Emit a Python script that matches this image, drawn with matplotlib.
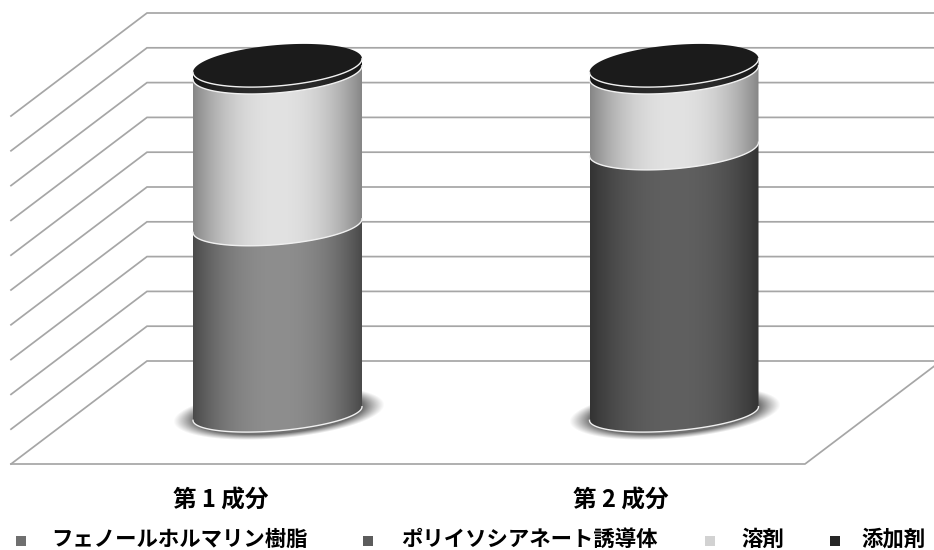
import numpy as np
import matplotlib
matplotlib.use("Agg")
import matplotlib.pyplot as plt
from matplotlib.patches import Polygon

plt.rcParams['font.family'] = ['Noto Sans CJK JP', 'DejaVu Sans']

categories = ['第 1 成分', '第 2 成分']
series_names = ['フェノールホルマリン樹脂', 'ポリイソシアネート誘導体', '溶剤', '添加剤']
phenol = [54.0, 0.0]
polyiso = [0.0, 76.0]
solvent = [44.0, 22.0]
additive = [2.0, 2.0]
grid_values = [0, 10, 20, 30, 40, 50, 60, 70, 80, 90, 100]

W, H = 934, 550
fig = plt.figure(figsize=(W / 100, H / 100), dpi=100)
ax = fig.add_axes([0, 0, 1, 1])

# scales
def wall_y(v):
    return 361 - v * 3.48

def base_y(v):
    return 413.5 - v * 3.48

def cat_x(i):
    return 277.5 + i * 396.5

GRID = '#a6a6a6'
DX, DY = 136, 103
for v in grid_values:
    y = wall_y(v)
    ax.plot([11, 147, W], [y + DY, y, y], color=GRID, lw=1.25, zorder=1, solid_joinstyle='miter')
y0 = wall_y(0)
ax.plot([11, 805, W], [y0 + DY, y0 + DY, y0 + DY - (W - 805) * DY / DX], color=GRID, lw=1.25, zorder=1)

A, S = 84.5, 6.8

def minor(v):
    return 17.3 + 3.2 * v / 100

def arc(cx, v, t0, t1, a=A, n=120):
    t = np.linspace(t0, t1, n)
    b = minor(v)
    return cx + a * np.cos(t), base_y(v) + b * np.sin(t) - S * np.cos(t)

def gradient(path, edge, mid, z):
    u = np.abs(np.linspace(-1, 1, 256))
    w = u ** 2.2
    e, m = np.array(matplotlib.colors.to_rgb(edge)), np.array(matplotlib.colors.to_rgb(mid))
    img = (m[None, :] * (1 - w[:, None]) + e[None, :] * w[:, None])[None, :, :]
    xs = path[:, 0]
    im = ax.imshow(img, extent=(xs.min(), xs.max(), H, 0), aspect='auto', zorder=z, interpolation='bilinear')
    im.set_clip_path(Polygon(path, closed=True, transform=ax.transData))

def shadow(cx, z):
    a_out, b_out = 106, 26
    x0, x1, y_0, y_1 = cx - 112, cx + 112, base_y(0) - 40, base_y(0) + 40
    gx, gy = np.meshgrid(np.linspace(x0, x1, 224), np.linspace(y_0, y_1, 80))
    u = (gx - cx - 1) / a_out
    r = np.sqrt(u ** 2 + ((gy - base_y(0) + S * u / (A / a_out)) / b_out) ** 2)
    alpha = 0.8 * np.clip((1 - r) / 0.2, 0, 1) ** 1.1
    img = np.zeros(gx.shape + (4,))
    img[..., :3] = 0.3
    img[..., 3] = alpha
    ax.imshow(img, extent=(x0, x1, y_1, y_0), aspect='auto', zorder=z, interpolation='bilinear')

seg_styles = [('#4a4a4a', '#8e8e8e'), ('#333333', '#606060'), ('#868686', '#e2e2e2'), ('#161616', '#2c2c2c')]
all_series = [phenol, polyiso, solvent, additive]
label_x = [221, 621]

for i in range(len(categories)):
    cx = cat_x(i)
    shadow(cx, 2)
    level = 0.0
    z = 3
    for vals, (edge, mid) in zip(all_series, seg_styles):
        val = vals[i]
        if val <= 0:
            continue
        lx, ly = arc(cx, level, np.pi, 0)
        ux, uy = arc(cx, level + val, 0, np.pi)
        gradient(np.column_stack([np.r_[lx, ux], np.r_[ly, uy]]), edge, mid, z)
        ax.plot(lx, ly, color='#f0f0f0', lw=1.0, zorder=z + 0.5)
        level += val
        z += 1
    tx, ty = arc(cx, level, 0, 2 * np.pi)
    ax.fill(tx, ty, color='#1b1b1b', lw=0, zorder=z)
    fx, fy = arc(cx, level, np.pi, 0)
    ax.plot(fx, fy, color='#f0f0f0', lw=1.0, zorder=z + 0.5)
    ax.text(label_x[i], 501, categories[i], ha='center', va='center', fontsize=17,
            fontweight='bold', color='black', zorder=9)

legend_colors = ['#6f6f6f', '#5c5c5c', '#d2d2d2', '#262626']
marker_x = [21, 368, 710, 835]
text_x = [51, 401, 741, 861]
for name, c, mx, tx_ in zip(series_names, legend_colors, marker_x, text_x):
    ax.scatter([mx], [541], marker='s', s=62, color=c, lw=0, zorder=9)
    ax.text(tx_, 539, name, ha='left', va='center', fontsize=15.4, fontweight='bold', color='black', zorder=9)

ax.set_xlim(0, W)
ax.set_ylim(H, 0)
ax.axis('off')
fig.savefig('out.png', dpi=100)
